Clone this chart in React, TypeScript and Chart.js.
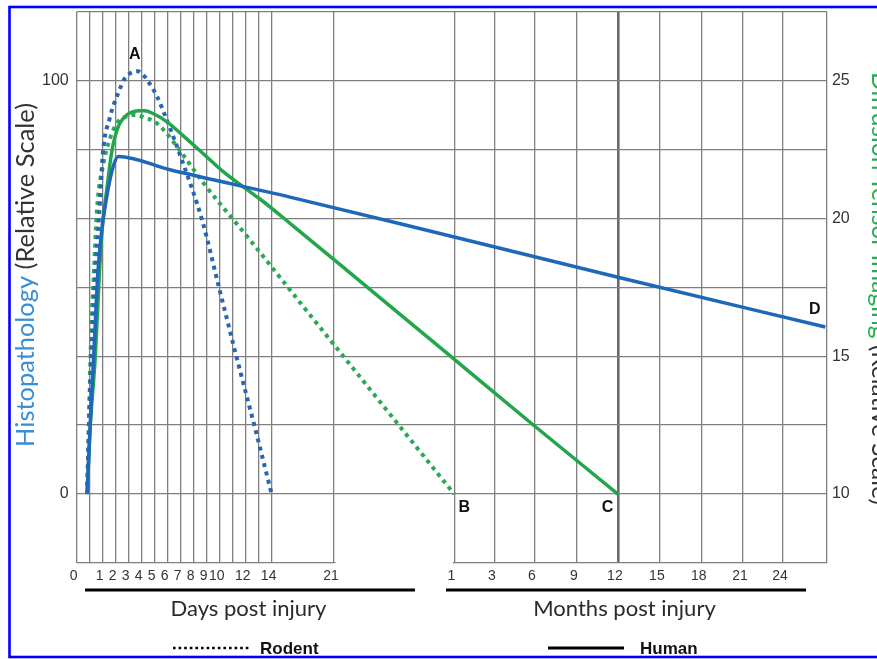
import React, { useEffect, useRef } from "react";
import { Chart, registerables } from "chart.js";

Chart.register(...registerables);

// ---------- axis ticks (x positions are in "grid slot" units of the irregular time axis) ----------
const xTickPositions = [0, 1, 2, 3, 4, 5, 6, 7, 8, 9, 10, 11, 12, 13, 14, 15, 19.8, 29.05, 32.18, 35.25, 38.48, 41.64, 44.87, 48.1, 51.26, 54.34, 57.72];
const xTickLabels = ["0", "", "1", "2", "3", "4", "5", "6", "7", "8", "9", "10", "", "12", "", "14", "21", "1", "3", "6", "9", "12", "15", "18", "21", "24", ""];

const leftTickValues = [-16.667, 0, 16.667, 33.333, 50, 66.667, 83.333, 100, 116.667];
const leftTickLabels = ["", "0", "", "", "", "", "", "100", ""];
const rightTickValues = [7.5, 10, 12.5, 15, 17.5, 20, 22.5, 25, 27.5];
const rightTickLabels = ["", "10", "", "15", "", "20", "", "25", ""];

// ---------- series ----------
// Human histopathology (blue solid, left scale) -> D
const humanHistoX = [0.8, 1.02, 1.33, 1.64, 1.95, 2.33, 2.79, 3.2, 7.18, 16.41, 27.95, 41.8, 57.6];
const humanHistoY = [0, 15.5, 34.8, 54.1, 64.3, 72.2, 79.0, 81.6, 78.4, 71.8, 63.0, 52.3, 40.4];

// Human DTI (green solid, right scale) -> C
const humanDtiX = [0.8, 1.02, 1.41, 1.92, 2.33, 2.71, 3.18, 3.87, 4.87, 5.25, 5.87, 6.95, 8.18, 9.72, 11.25, 12.79, 14.1, 16.41, 22.56, 27.95, 35.25, 41.64];
const humanDtiY = [10, 12.3, 14.85, 19.4, 21.1, 22.45, 23.3, 23.75, 23.9, 23.9, 23.8, 23.5, 23.0, 22.35, 21.7, 21.15, 20.7, 19.82, 17.42, 15.32, 12.46, 10];

// Rodent histopathology (blue dotted, left scale) -> A
const rodentHistoX = [0.8, 1.0, 1.25, 1.5, 1.8, 2.0, 2.55, 3.2, 3.7, 4.3, 4.7, 5.1, 5.6, 6.2, 6.95, 8.1, 9.65, 11.0, 12.3, 13.7, 15.0];
const rodentHistoY = [0, 22.7, 42, 56.5, 71, 82, 91, 97, 100.5, 102, 102.2, 101.4, 99.3, 96, 90.3, 80.7, 66.2, 49.3, 33.1, 16.2, 0];

// Rodent DTI (green dotted, right scale) -> B
const rodentDtiX = [0.8, 0.95, 1.1, 1.33, 1.56, 2.02, 2.56, 3.18, 3.87, 4.48, 5.25, 6.02, 6.79, 7.95, 9.72, 13.1, 17.18, 23.33, 29.05];
const rodentDtiY = [10, 12.7, 15.6, 18.1, 20.3, 21.9, 22.9, 23.5, 23.7, 23.75, 23.65, 23.5, 23.15, 22.45, 21.3, 19.35, 16.95, 13.35, 10];

const seriesNames = ["Human histopathology", "Human DTI", "Rodent histopathology", "Rodent DTI"];
const curveLetters = ["D", "C", "A", "B"];

const BLUE = "#1d68b8";
const BLUE_DOT = "#2766b0";
const GREEN = "#22a64b";
const GREEN_DOT = "#2aa858";
const GRID = "#7f7f7f";
const TICK_FONT = '"Liberation Sans", Arial, sans-serif';
const TITLE_FONT = 'Lato, "Open Sans", sans-serif';

const toPoints = (xs: number[], ys: number[]) => xs.map((x, i) => ({ x, y: ys[i] }));

function fitSize(ctx: CanvasRenderingContext2D, text: string, weight: string, family: string, target: number) {
  ctx.font = `${weight} 100px ${family}`;
  const w = ctx.measureText(text).width;
  return (100 * target) / w;
}

function drawMixed(
  ctx: CanvasRenderingContext2D,
  parts: { text: string; color: string }[],
  cx: number,
  cy: number,
  angle: number,
  targetWidth: number,
  family: string
) {
  const full = parts.map((p) => p.text).join("");
  const size = fitSize(ctx, full, "normal", family, targetWidth);
  ctx.save();
  ctx.translate(cx, cy);
  ctx.rotate(angle);
  ctx.font = `normal ${size}px ${family}`;
  ctx.textAlign = "left";
  ctx.textBaseline = "alphabetic";
  const widths = parts.map((p) => ctx.measureText(p.text).width);
  const total = widths.reduce((a, b) => a + b, 0);
  let x0 = -total / 2;
  parts.forEach((p, i) => {
    ctx.fillStyle = p.color;
    ctx.fillText(p.text, x0, 0);
    x0 += widths[i];
  });
  ctx.restore();
}

const overlayPlugin = {
  id: "overlay",
  afterDraw(chart: any) {
    const ctx: CanvasRenderingContext2D = chart.ctx;
    const { x, y, y1 } = chart.scales;
    const area = chart.chartArea;
    ctx.save();

    // gap in the bottom frame between day 21 and month 1
    ctx.strokeStyle = "#ffffff";
    ctx.lineWidth = 4;
    ctx.beginPath();
    ctx.moveTo(x.getPixelForValue(xTickPositions[16]) + 1.5, area.bottom);
    ctx.lineTo(x.getPixelForValue(xTickPositions[17]) - 1.5, area.bottom);
    ctx.stroke();

    // curve letters
    ctx.fillStyle = "#111";
    ctx.font = `bold 16px ${TICK_FONT}`;
    ctx.textAlign = "center";
    ctx.textBaseline = "middle";
    const peakIdx = rodentHistoY.indexOf(Math.max(...rodentHistoY));
    const aX = x.getPixelForValue(rodentHistoX[peakIdx]);
    const aY = y.getPixelForValue(rodentHistoY[peakIdx]);
    ctx.fillText(curveLetters[2], aX - 3, aY - 17);
    const bL = rodentDtiX.length - 1;
    ctx.fillText(curveLetters[3], x.getPixelForValue(rodentDtiX[bL]) + 10, y1.getPixelForValue(rodentDtiY[bL]) + 14);
    const cL = humanDtiX.length - 1;
    ctx.fillText(curveLetters[1], x.getPixelForValue(humanDtiX[cL]) - 10.5, y1.getPixelForValue(humanDtiY[cL]) + 14);
    const dL = humanHistoX.length - 1;
    ctx.fillText(curveLetters[0], x.getPixelForValue(humanHistoX[dL]) - 10.5, y.getPixelForValue(humanHistoY[dL]) - 17.5);

    // period bars under the tick labels
    ctx.strokeStyle = "#000";
    ctx.lineWidth = 3;
    ctx.setLineDash([]);
    ctx.beginPath();
    ctx.moveTo(85, 590);
    ctx.lineTo(415, 590);
    ctx.moveTo(446, 590);
    ctx.lineTo(806, 590);
    ctx.stroke();

    // period captions
    ctx.fillStyle = "#2b2b2b";
    ctx.textAlign = "center";
    ctx.textBaseline = "alphabetic";
    const capSize = fitSize(ctx, "Days post injury", "normal", TITLE_FONT, 156);
    ctx.font = `normal ${capSize}px ${TITLE_FONT}`;
    ctx.fillText("Days post injury", 248.5, 616);
    ctx.fillText("Months post injury", 624.5, 616);

    // legend
    ctx.strokeStyle = "#000";
    ctx.lineWidth = 2.6;
    ctx.setLineDash([2.6, 3]);
    ctx.beginPath();
    ctx.moveTo(173, 648);
    ctx.lineTo(249, 648);
    ctx.stroke();
    ctx.setLineDash([]);
    ctx.lineWidth = 3;
    ctx.beginPath();
    ctx.moveTo(548, 648);
    ctx.lineTo(624, 648);
    ctx.stroke();
    ctx.fillStyle = "#111";
    ctx.font = `bold 17px ${TICK_FONT}`;
    ctx.textAlign = "left";
    ctx.textBaseline = "alphabetic";
    ctx.fillText("Rodent", 260, 654);
    ctx.fillText("Human", 640, 654);

    // axis titles (two-colour)
    drawMixed(
      ctx,
      [
        { text: "Histopathology", color: "#3b8ed4" },
        { text: " (Relative Scale)", color: "#333333" },
      ],
      34,
      275,
      -Math.PI / 2,
      344,
      TITLE_FONT
    );
    drawMixed(
      ctx,
      [
        { text: "Diffusion Tensor Imaging", color: "#27ae4f" },
        { text: " (Relative Scale)", color: "#333333" },
      ],
      872,
      288.5,
      Math.PI / 2,
      433,
      TITLE_FONT
    );

    // blue frame
    ctx.strokeStyle = "#0000ff";
    ctx.lineWidth = 2.6;
    ctx.strokeRect(9.5, 7, 900, 650);

    ctx.restore();
  },
};

export default function App() {
  const ref = useRef<HTMLCanvasElement>(null);

  useEffect(() => {
    const strongIdx = xTickLabels.lastIndexOf("12");
    const chart = new Chart(ref.current as HTMLCanvasElement, {
      type: "line",
      data: {
        datasets: [
          {
            label: seriesNames[0],
            data: toPoints(humanHistoX, humanHistoY),
            yAxisID: "y",
            borderColor: BLUE,
            borderWidth: 3.5,
            cubicInterpolationMode: "monotone",
            pointRadius: 0,
            fill: false,
          },
          {
            label: seriesNames[1],
            data: toPoints(humanDtiX, humanDtiY),
            yAxisID: "y1",
            borderColor: GREEN,
            borderWidth: 3.5,
            cubicInterpolationMode: "monotone",
            pointRadius: 0,
            fill: false,
          },
          {
            label: seriesNames[2],
            data: toPoints(rodentHistoX, rodentHistoY),
            yAxisID: "y",
            borderColor: BLUE_DOT,
            borderWidth: 4,
            borderDash: [4, 4.5],
            borderCapStyle: "butt",
            cubicInterpolationMode: "monotone",
            pointRadius: 0,
            fill: false,
          },
          {
            label: seriesNames[3],
            data: toPoints(rodentDtiX, rodentDtiY),
            yAxisID: "y1",
            borderColor: GREEN_DOT,
            borderWidth: 4,
            borderDash: [4, 4.5],
            borderCapStyle: "butt",
            cubicInterpolationMode: "monotone",
            pointRadius: 0,
            fill: false,
          },
        ],
      },
      options: {
        animation: false,
        responsive: false,
        devicePixelRatio: 1,
        layout: { padding: { top: 11.5, left: 0, right: 0, bottom: 0 } },
        plugins: { legend: { display: false }, tooltip: { enabled: false } },
        elements: { point: { radius: 0 } },
        scales: {
          x: {
            type: "linear",
            min: xTickPositions[0],
            max: xTickPositions[xTickPositions.length - 1],
            afterBuildTicks: (s: any) => {
              s.ticks = xTickPositions.map((v) => ({ value: v }));
            },
            afterFit: (s: any) => {
              s.height = 96;
              s.paddingLeft = 0;
              s.paddingRight = 0;
            },
            ticks: {
              callback: (_v: any, i: number) => xTickLabels[i],
              autoSkip: false,
              maxRotation: 0,
              minRotation: 0,
              padding: 5,
              labelOffset: -3,
              color: "#333",
              font: { family: TICK_FONT, size: 14 },
            },
            grid: {
              color: (c: any) => (c.index === strongIdx ? "#6a6a6a" : GRID),
              lineWidth: (c: any) => (c.index === strongIdx ? 2.6 : 1.3),
              drawTicks: false,
            },
            border: { display: false },
          },
          y: {
            position: "left",
            min: leftTickValues[0],
            max: leftTickValues[leftTickValues.length - 1],
            afterBuildTicks: (s: any) => {
              s.ticks = leftTickValues.map((v) => ({ value: v }));
            },
            afterFit: (s: any) => {
              s.width = 76.7;
              s.paddingTop = 0;
              s.paddingBottom = 0;
            },
            ticks: {
              callback: (_v: any, i: number) => leftTickLabels[i],
              autoSkip: false,
              padding: 8,
              color: "#333",
              font: { family: TICK_FONT, size: 16 },
            },
            grid: { color: GRID, lineWidth: 1.3, drawTicks: false },
            border: { display: false },
          },
          y1: {
            position: "right",
            min: rightTickValues[0],
            max: rightTickValues[rightTickValues.length - 1],
            afterBuildTicks: (s: any) => {
              s.ticks = rightTickValues.map((v) => ({ value: v }));
            },
            afterFit: (s: any) => {
              s.width = 877 - 826.9;
              s.paddingTop = 0;
              s.paddingBottom = 0;
            },
            ticks: {
              callback: (_v: any, i: number) => rightTickLabels[i],
              autoSkip: false,
              padding: 5,
              color: "#333",
              font: { family: TICK_FONT, size: 16 },
            },
            grid: { display: false, drawTicks: false },
            border: { display: false },
          },
        },
      },
      plugins: [overlayPlugin],
    } as any);
    return () => chart.destroy();
  }, []);

  return (
    <div style={{ position: "fixed", left: 0, top: 0, width: 877, height: 659, background: "#ffffff" }}>
      <canvas ref={ref} width={877} height={659} style={{ display: "block", width: 877, height: 659 }} />
    </div>
  );
}
